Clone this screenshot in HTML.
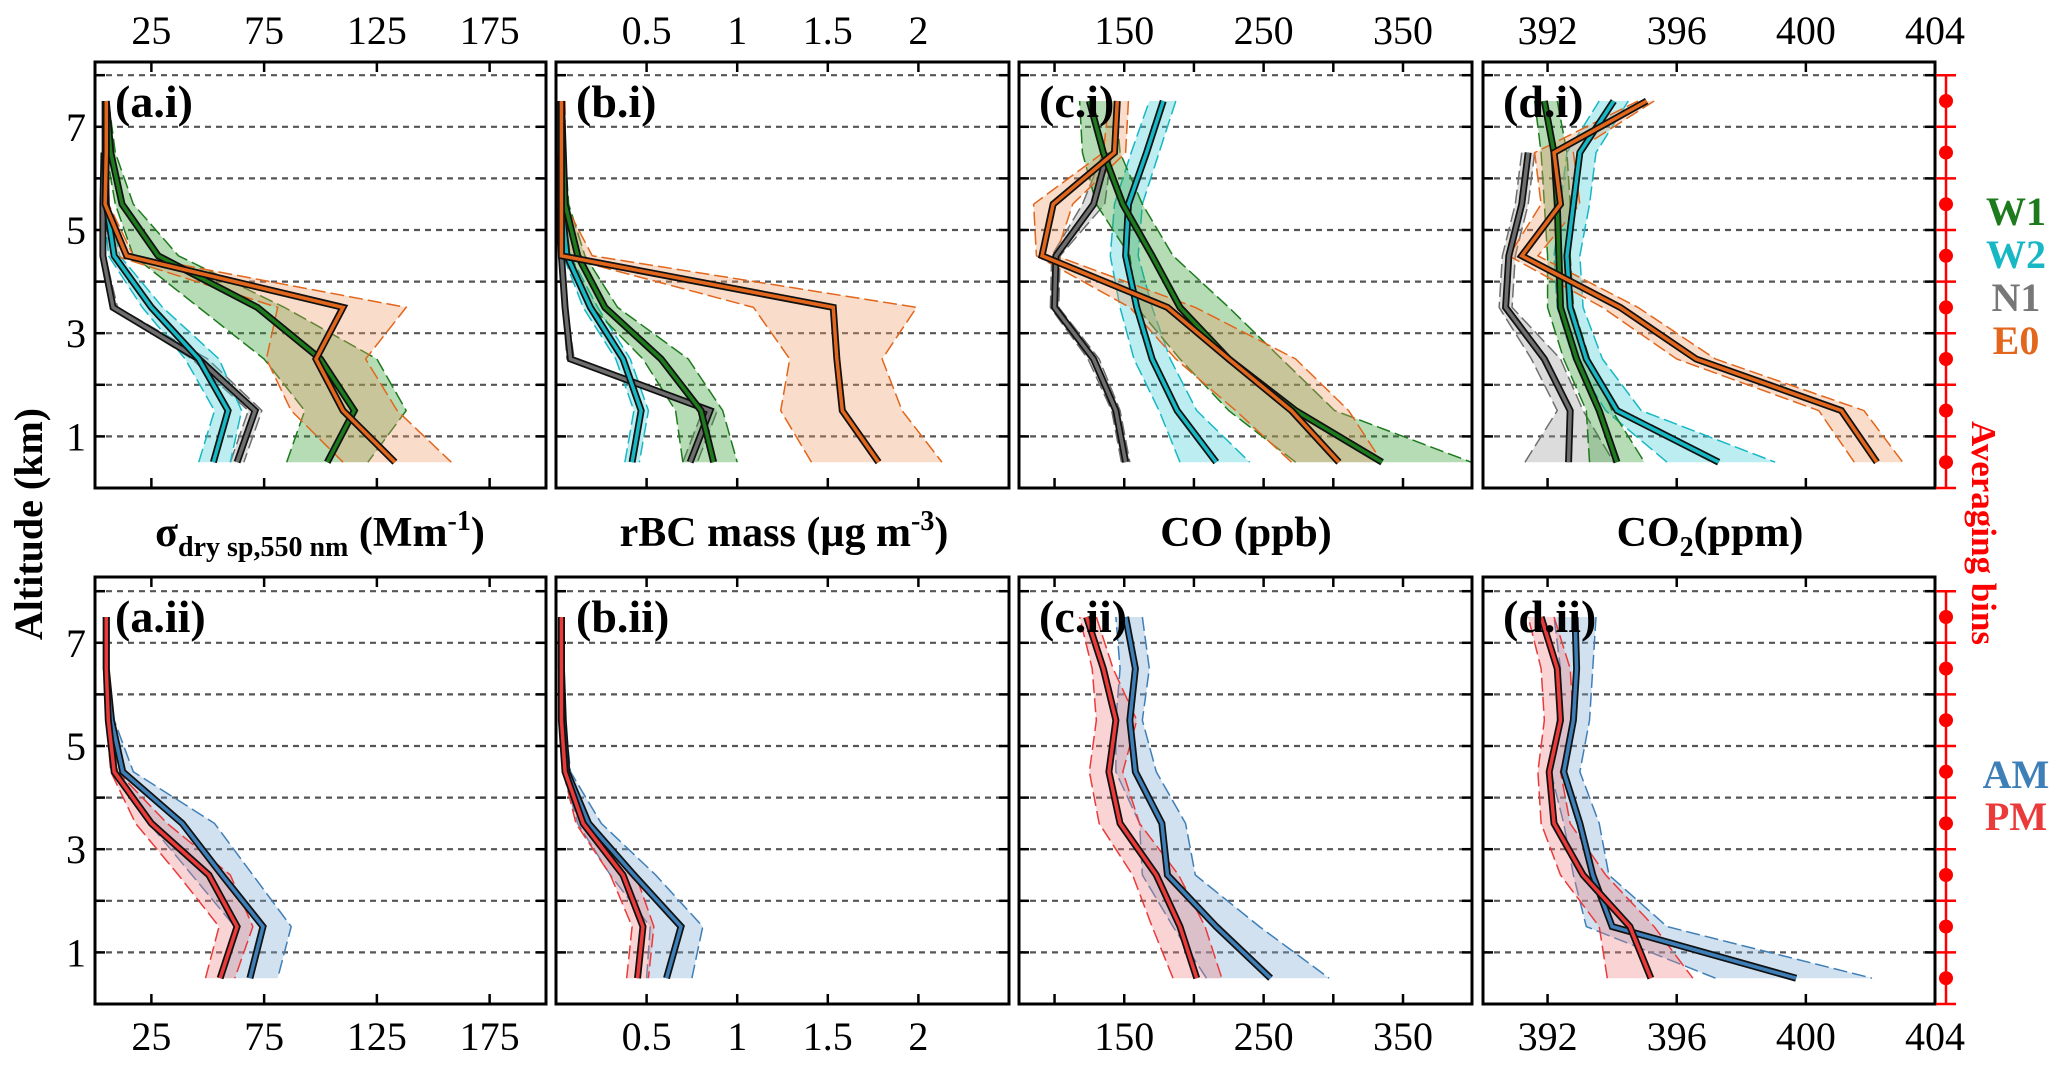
<!DOCTYPE html>
<html><head><meta charset="utf-8"><style>
html,body{margin:0;padding:0;background:#fff;}
svg{display:block;}
text{font-family:"Liberation Serif",serif;}
</style></head><body>
<svg id="chart" width="2067" height="1071" viewBox="0 0 2067 1071" xmlns="http://www.w3.org/2000/svg"></svg>
<script>
const altitudes=[0.5,1.5,2.5,3.5,4.5,5.5,6.5,7.5];
// a.i scattering
const a_W1_mean=[103,115,100,72,28,12,7,5], a_W1_lo=[85,93,75,46,17,9,5,4], a_W1_hi=[121,138,125,84,37,17,9,6];
const a_W2_mean=[52.5,59,46,25,8.5,5,4.5,4.5], a_W2_lo=[46,53,40,21,6,4,4,4], a_W2_hi=[60,65,55,30,11,6,5,5];
const a_N1_mean=[63,71,46,8,3.5,3.5,4,null], a_N1_lo=[60,68,43,7,3,3,3.5,null], a_N1_hi=[66,74,50,10,4.5,4.5,5,null];
const a_E0_mean=[133,110,98,110,14,4.5,5,5], a_E0_lo=[110,87,76,81,9,4,4,4], a_E0_hi=[158,134,120,138,17,6,6,6];
// b.i rBC
const b_W1_mean=[0.87,0.80,0.58,0.27,0.12,0.05,0.04,0.03], b_W1_lo=[0.70,0.66,0.48,0.20,0.08,0.03,0.02,0.02], b_W1_hi=[1.0,0.92,0.73,0.34,0.16,0.07,0.05,0.04];
const b_W2_mean=[0.42,0.47,0.37,0.19,0.06,0.03,0.02,0.02], b_W2_lo=[0.38,0.43,0.33,0.15,0.04,0.02,0.01,0.01], b_W2_hi=[0.46,0.51,0.41,0.23,0.08,0.04,0.03,0.03];
const b_N1_mean=[0.74,0.85,0.08,0.05,0.03,0.02,0.02,null], b_N1_lo=[0.70,0.81,0.06,0.04,0.02,0.01,0.01,null], b_N1_hi=[0.78,0.89,0.10,0.06,0.04,0.03,0.03,null];
const b_E0_mean=[1.78,1.58,1.55,1.53,0.03,0.03,0.03,0.03], b_E0_lo=[1.41,1.24,1.29,1.09,0.02,0.02,0.02,0.02], b_E0_hi=[2.13,1.91,1.80,1.99,0.2,0.05,0.05,0.05];
// c.i CO
const c_W1_mean=[335,273,225,190,170,149,135,125], c_W1_lo=[273,225,190,159,154,130,120,118], c_W1_hi=[399,301,263,225,185,163,147,144];
const c_W2_mean=[216,188,170,159,151,153,166,178], c_W2_lo=[190,175,157,147,140,143,155,168], c_W2_hi=[240,202,183,170,160,163,175,187];
const c_N1_mean=[151,144,128,100,101,128,138,null], c_N1_lo=[148,141,124,97,98,120,135,null], c_N1_hi=[154,147,132,103,104,136,141,null];
const c_E0_mean=[304,270,225,181,91,99,143,145], c_E0_lo=[270,230,187,154,87,85,135,139], c_E0_hi=[335,311,273,201,101,113,151,153];
// d.i CO2
const d_W1_mean=[394.15,393.6,392.9,392.4,392.35,392.3,392.2,391.9], d_W1_lo=[393.3,393.2,392.5,392.0,392.0,391.9,391.8,391.6], d_W1_hi=[395.0,394.0,393.3,392.8,392.7,392.7,392.6,392.3];
const d_W2_mean=[397.3,394.15,393.2,392.7,392.6,392.8,393.0,394.05], d_W2_lo=[395.7,393.8,392.8,392.3,392.2,392.4,392.6,393.6], d_W2_hi=[399.05,394.9,393.7,393.1,393.0,393.3,393.5,394.5];
const d_N1_mean=[392.65,392.7,391.9,390.7,390.8,391.2,391.4,null], d_N1_lo=[391.3,392.3,391.5,390.5,390.6,391.0,391.2,null], d_N1_hi=[394.05,393.1,392.4,390.9,391.0,391.4,391.6,null];
const d_E0_mean=[402.2,401.1,396.6,394.25,391.2,392.4,392.2,395.07], d_E0_lo=[401.5,400.4,396.0,393.7,390.8,391.8,391.6,394.8], d_E0_hi=[403.0,401.8,397.2,394.8,391.7,393.0,392.8,395.3];
// bottom row AM / PM
const a_AM_mean=[68.7,74.5,56.3,38.7,12.3,7.3,5,5], a_AM_lo=[56,62,43,24,9,6,4.5,4.5], a_AM_hi=[81,87,70,53,17,8.5,5.5,5.5];
const a_PM_mean=[55.5,63,50.5,25,8.5,5.9,5,5], a_PM_lo=[49,55,37,18,7,5,4.5,4.5], a_PM_hi=[62,70,60,32,10,6.5,5.5,5.5];
const b_AM_mean=[0.61,0.69,0.43,0.18,0.06,0.04,0.03,0.03], b_AM_lo=[0.50,0.52,0.30,0.12,0.04,0.03,0.02,0.02], b_AM_hi=[0.75,0.81,0.55,0.25,0.08,0.05,0.04,0.04];
const b_PM_mean=[0.45,0.48,0.37,0.15,0.05,0.03,0.03,0.03], b_PM_lo=[0.39,0.42,0.30,0.11,0.04,0.02,0.02,0.02], b_PM_hi=[0.51,0.54,0.44,0.19,0.06,0.04,0.04,0.04];
const c_AM_mean=[255,216,181,177,158,154,158,151], c_AM_lo=[209,185,163,161,144,144,147,144], c_AM_hi=[297,247,201,194,173,163,168,163];
const c_PM_mean=[202,190,173,147,139,144,135,123], c_PM_lo=[185,170,156,132,125,130,127,118], c_PM_hi=[220,208,189,161,149,159,142,130];
const d_AM_mean=[399.7,394.0,393.4,393.0,392.5,392.8,392.9,392.85], d_AM_lo=[397.2,393.2,392.8,392.5,392.1,392.3,392.4,392.2], d_AM_hi=[402.05,395.7,393.9,393.6,393.0,393.3,393.4,393.5];
const d_PM_mean=[395.2,394.55,393.1,392.2,392.05,392.4,392.3,391.8], d_PM_lo=[393.85,393.6,392.4,391.8,391.7,391.9,391.8,391.4], d_PM_hi=[396.5,395.3,393.8,392.7,392.4,392.8,392.7,392.2];
// axes
const a_ticks=[25,75,125,175], b_ticks=[0.5,1,1.5,2], c_ticks=[100,150,200,250,300,350], c_labels=[150,250,350], d_ticks=[392,396,400,404];
const alt_ticks=[1,2,3,4,5,6,7,8], alt_labels=[1,3,5,7];

const svg=document.getElementById('chart');
const NS='http://www.w3.org/2000/svg';
function mk(tag,attrs,parent){const e=document.createElementNS(NS,tag);for(const k in attrs)e.setAttribute(k,attrs[k]);(parent||svg).appendChild(e);return e;}

const panels=[
 {key:'a',x0:95,x1:546,min:0,max:200,ticks:a_ticks,labels:a_ticks},
 {key:'b',x0:556,x1:1009,min:0,max:2.5,ticks:b_ticks,labels:b_ticks},
 {key:'c',x0:1019,x1:1472,min:74.5,max:399.5,ticks:c_ticks,labels:c_labels},
 {key:'d',x0:1483,x1:1935,min:390,max:404,ticks:d_ticks,labels:d_ticks}
];
const rows=[{base:488,top:62,suffix:'i',series:['N1','W2','W1','E0'],labelsTop:true},
            {base:1004,top:577,suffix:'ii',series:['AM','PM'],labelsTop:false}];
const KM=51.6;
const colors={W1:['#1d7a1d','#2f9a2f'],W2:['#17b8c4','#3fcfd6'],N1:['#6e6e6e','#9a9a9a'],E0:['#e2661c','#ef9a68'],AM:['#3f7fb8','#7aa9d2'],PM:['#ea3a3a','#f08585']};
const data={a:{W1:[a_W1_mean,a_W1_lo,a_W1_hi],W2:[a_W2_mean,a_W2_lo,a_W2_hi],N1:[a_N1_mean,a_N1_lo,a_N1_hi],E0:[a_E0_mean,a_E0_lo,a_E0_hi],AM:[a_AM_mean,a_AM_lo,a_AM_hi],PM:[a_PM_mean,a_PM_lo,a_PM_hi]},
 b:{W1:[b_W1_mean,b_W1_lo,b_W1_hi],W2:[b_W2_mean,b_W2_lo,b_W2_hi],N1:[b_N1_mean,b_N1_lo,b_N1_hi],E0:[b_E0_mean,b_E0_lo,b_E0_hi],AM:[b_AM_mean,b_AM_lo,b_AM_hi],PM:[b_PM_mean,b_PM_lo,b_PM_hi]},
 c:{W1:[c_W1_mean,c_W1_lo,c_W1_hi],W2:[c_W2_mean,c_W2_lo,c_W2_hi],N1:[c_N1_mean,c_N1_lo,c_N1_hi],E0:[c_E0_mean,c_E0_lo,c_E0_hi],AM:[c_AM_mean,c_AM_lo,c_AM_hi],PM:[c_PM_mean,c_PM_lo,c_PM_hi]},
 d:{W1:[d_W1_mean,d_W1_lo,d_W1_hi],W2:[d_W2_mean,d_W2_lo,d_W2_hi],N1:[d_N1_mean,d_N1_lo,d_N1_hi],E0:[d_E0_mean,d_E0_lo,d_E0_hi],AM:[d_AM_mean,d_AM_lo,d_AM_hi],PM:[d_PM_mean,d_PM_lo,d_PM_hi]}};

rows.forEach((r,ri)=>{
 const yOf=a=>r.base-a*KM;
 panels.forEach(p=>{
  const xOf=v=>p.x0+(v-p.min)/(p.max-p.min)*(p.x1-p.x0);
  const g=mk('g',{});
  
  
  // gridlines
  alt_ticks.forEach(t=>{
   const l=mk('line',{x1:p.x0,x2:p.x1,y1:yOf(t),y2:yOf(t),stroke:'#555','stroke-width':2.2,'stroke-dasharray':'6 5'},g);
   
   
   mk('line',{x1:p.x0,x2:p.x0+10,y1:yOf(t),y2:yOf(t),stroke:'#000','stroke-width':2.5},g);
   mk('line',{x1:p.x1-10,x2:p.x1,y1:yOf(t),y2:yOf(t),stroke:'#000','stroke-width':2.5},g);
  });
  // x ticks
  p.ticks.forEach(t=>{
   const x=xOf(t);
   mk('line',{x1:x,x2:x,y1:r.top,y2:r.top+10,stroke:'#000','stroke-width':2.5},g);
   mk('line',{x1:x,x2:x,y1:r.base-10,y2:r.base,stroke:'#000','stroke-width':2.5},g);
  });
  p.labels.forEach(t=>{
   const tx=mk('text',{x:xOf(t),y:r.labelsTop?44:1050,'font-size':40,'text-anchor':'middle'},g);
   tx.textContent=String(t);
   
   
  });
  // bands
  const keep=[];
  r.series.forEach(s=>{
   const [m,lo,hi]=data[p.key][s];
   const idx=altitudes.map((a,i)=>i).filter(i=>m[i]!==null);
   const loPts=idx.map(i=>xOf(lo[i])+','+yOf(altitudes[i]));
   const hiPts=idx.slice().reverse().map(i=>xOf(hi[i])+','+yOf(altitudes[i]));
   const band=mk('polygon',{points:loPts.concat(hiPts).join(' '),fill:colors[s][1],'fill-opacity':0.35,stroke:'none'},g);
   
   
   mk('polyline',{points:loPts.join(' '),fill:'none',stroke:colors[s][0],'stroke-width':1.5,'stroke-dasharray':'14 5'},g);
   mk('polyline',{points:hiPts.join(' '),fill:'none',stroke:colors[s][0],'stroke-width':1.5,'stroke-dasharray':'14 5'},g);
   keep.push([s,idx.map(i=>xOf(m[i])+','+yOf(altitudes[i])).join(' ')]);
  });
  keep.forEach(([s,pts])=>{
   mk('polyline',{points:pts,fill:'none',stroke:'#111','stroke-width':7,'stroke-linejoin':'miter'},g);
   const ln=mk('polyline',{points:pts,fill:'none',stroke:colors[s][0],'stroke-width':3.5},g);
   
   
  });
  // frame
  const fr=mk('rect',{x:p.x0,y:r.top,width:p.x1-p.x0,height:r.base-r.top,fill:'none',stroke:'#000','stroke-width':3},g);
  
  
  const pl=mk('text',{x:p.x0+20,y:r.top+55,'font-size':46,'font-weight':'bold'},g);
  pl.textContent='('+p.key+'.'+r.suffix+')';
  
  
 });
 // y labels
 alt_labels.forEach(t=>{
  const tx=mk('text',{x:76,y:yOf(t)+14,'font-size':40,'text-anchor':'middle'});
  tx.textContent=String(t);
  
  
 });
 // averaging bins axis
 const ax=1946;
 const bl=mk('line',{x1:ax,x2:ax,y1:yOf(8),y2:yOf(0),stroke:'#f00','stroke-width':2.5});
 
 
 [0].concat(alt_ticks).forEach(t=>mk('line',{x1:ax-10,x2:ax+10,y1:yOf(t),y2:yOf(t),stroke:'#f00','stroke-width':2.5}));
 altitudes.forEach(a=>{
  const c=mk('circle',{cx:ax,cy:yOf(a),r:7,fill:'#f00'});
  
  
 });
});

// axis titles
function title(x,html,name){
 const t=mk('text',{x:x,y:546,'font-size':42,'font-weight':'bold','text-anchor':'middle'});
 t.innerHTML=html;
 
 
}
title(320,'σ<tspan font-size="28" dy="10">dry sp,550 nm</tspan><tspan dy="-10"> (Mm</tspan><tspan font-size="28" dy="-16">-1</tspan><tspan dy="16">)</tspan>','x-axis-title-scattering');
title(784,'rBC mass (µg m<tspan font-size="28" dy="-16">-3</tspan><tspan dy="16">)</tspan>','x-axis-title-rbc');
title(1246,'CO (ppb)','x-axis-title-co');
title(1710,'CO<tspan font-size="28" dy="10">2</tspan><tspan dy="-10">(ppm)</tspan>','x-axis-title-co2');

const yt=mk('text',{x:0,y:0,'font-size':40,'font-weight':'bold','text-anchor':'middle',transform:'translate(42,524) rotate(-90)'});
yt.textContent='Altitude (km)';



const ab=mk('text',{x:0,y:0,'font-size':35,'font-weight':'bold','text-anchor':'middle',fill:'#f00',transform:'translate(1972,533) rotate(90)'});
ab.textContent='Averaging bins';



const legend=[['W1',225,'#1d7a1d'],['W2',268,'#17b8c4'],['N1',311,'#777'],['E0',354,'#e2661c'],['AM',788,'#3f7fb8'],['PM',830,'#ea3a3a']];
legend.forEach(([s,y,c])=>{
 const t=mk('text',{x:2016,y:y,'font-size':40,'font-weight':'bold','text-anchor':'middle',fill:c});
 t.textContent=s;
 
 
});
</script>
</body></html>
